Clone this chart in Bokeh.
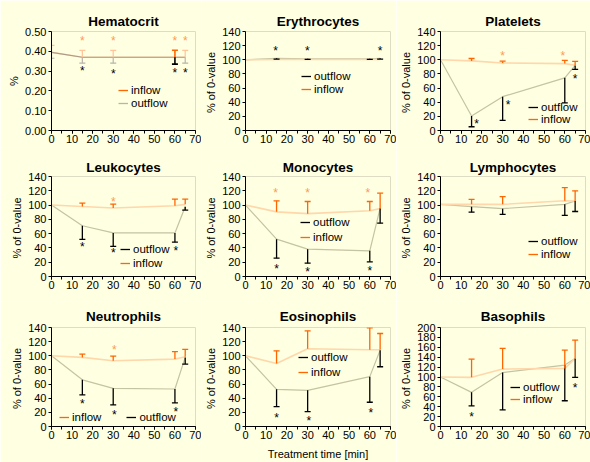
from bokeh.plotting import figure
from bokeh.layouts import gridplot
from bokeh.models import Range1d, FixedTicker, NumeralTickFormatter, Legend, LegendItem
from bokeh.core.properties import value
from bokeh.embed import file_html
from bokeh.resources import INLINE

# ---------------- data ----------------
T = [0, 15, 30, 60, 65]
TIME_TICKS = [0, 10, 20, 30, 40, 50, 60, 70]
TIME_MINOR = [0, 5, 10, 15, 20, 25, 30, 35, 40, 45, 50, 55, 60, 65, 70]
HCT_TICKS = [0.0, 0.1, 0.2, 0.3, 0.4, 0.5]
PCT_TICKS = [0, 20, 40, 60, 80, 100, 120, 140]
BASO_TICKS = [0, 20, 40, 60, 80, 100, 120, 140, 160, 180, 200]

hct_out = [0.395, 0.37, 0.37, 0.37, 0.37]
hct_out_low = [0.365, 0.34, 0.34, 0.335, 0.34]
hct_in = [0.395, 0.37, 0.37, 0.37, 0.37]
hct_in_high = [0.43, 0.405, 0.405, 0.405, 0.405]
hct_star_out_x = [15, 30, 60, 65]
hct_star_out_y = [0.314, 0.298, 0.305, 0.305]
hct_star_in_x = [15, 30, 60, 65]
hct_star_in_y = [0.468, 0.468, 0.468, 0.468]

ery_out = [100, 102, 101.5, 101.5, 102]
ery_out_low = [None, 101, 100.5, 100.5, 101]
ery_in = [100, 100.5, 100.5, 100.5, 100.5]
ery_in_high = [None, None, None, None, None]
ery_star_out_x = [14.5, 29.8, 65]
ery_star_out_y = [117, 117, 117]

plt_out = [100, 20.5, 47.8, 74.5, 92]
plt_out_low = [None, 5.3, 14.3, 39, 86.5]
plt_in = [100, 98.4, 95.5, 94.6, 92.2]
plt_in_high = [None, 101.8, 98, 99.2, 97.8]
plt_star_out_x = [17.4, 32.6, 65]
plt_star_out_y = [14, 41, 76.5]
plt_star_in_x = [30, 59]
plt_star_in_y = [110, 109]

leu_out = [100, 71, 61, 61, 97.7]
leu_out_low = [None, 52, 42.3, 48, 93]
leu_in = [100, 98, 96, 99, 101]
leu_in_high = [None, 102.8, 101.4, 108.4, 108.4]
leu_star_out_x = [15, 30, 60.5]
leu_star_out_y = [45.6, 37, 39.5]
leu_star_in_x = [30]
leu_star_in_y = [108]

mon_out = [100, 52.3, 38.3, 36, 95.7]
mon_out_low = [None, 25.7, 18.7, 20.5, 74.7]
mon_in = [100, 90.5, 88, 92, 95]
mon_in_high = [None, 106, 105, 105, 116.7]
mon_star_out_x = [15, 30, 60]
mon_star_out_y = [15, 10.3, 11.7]
mon_star_in_x = [14.5, 30, 59]
mon_star_in_y = [121, 121, 121]

lym_out = [101, 97.7, 95, 101, 105.7]
lym_out_low = [None, 90, 87, 85.5, 91]
lym_in = [101, 101, 101, 106, 105.7]
lym_in_high = [None, 108, 111.8, 124.5, 120]

neu_out = [100, 66, 54, 53, 97.7]
neu_out_low = [None, 44.6, 30.5, 33.3, 88.3]
neu_in = [100, 97.7, 93, 95.3, 98.6]
neu_in_high = [None, 102.4, 99.6, 106, 109]
neu_star_out_x = [15, 30.6, 60.5]
neu_star_out_y = [36.6, 20.2, 24.9]
neu_star_in_x = [30.6]
neu_star_in_y = [111.8]

eos_out = [100, 52.6, 51.2, 70.5, 108]
eos_out_low = [None, 28, 21, 34.3, 84.5]
eos_in = [100, 89, 110, 108.5, 108.5]
eos_in_high = [None, 107, 135.3, 139.5, 131.5]
eos_star_out_x = [15, 30.6, 60.5]
eos_star_out_y = [16.4, 11.7, 23.5]

bas_out = [100, 69, 109, 124, 137.6]
bas_out_low = [None, 41.6, 33.5, 52, 99.3]
bas_in = [100, 99.3, 116, 117.4, 137.6]
bas_in_high = [None, 136, 157.7, 154.4, 174.5]
bas_star_out_x = [15, 65]
bas_star_out_y = [25.5, 84]

# ---------------- styling ----------------
BG = "#FFFFE1"
FONT = "Liberation Sans"
OUT_LINE = "#C4C4A2"
IN_LINE = "#FFD7AA"
OUT_BAR = "#000000"
IN_BAR = "#FF6600"
OUT_BAR_LIGHT = "#B8B4AC"
IN_BAR_LIGHT = "#FFC49A"
OUT_STAR = "#000000"
IN_STAR = "#FF9955"

COL_FW = [144, 145, 145]
COL_L = [51, 44, 44]
COL_R = [6, 6, 5]
ROW_FH = [99, 100, 99]
ROW_T = [31, 29, 26]
ROW_B = [17, 25, 36]
ROW_TITLE_STANDOFF = [5, 4, 7]


def base_fig(col, row, title, ymax, yticks, ylabel, fmt=None, xlabel=None):
    p = figure(frame_width=COL_FW[col], frame_height=ROW_FH[row],
               x_range=Range1d(0, 70), y_range=Range1d(0, ymax),
               output_backend="svg", toolbar_location=None,
               min_border_left=COL_L[col], min_border_right=COL_R[col],
               min_border_top=ROW_T[row], min_border_bottom=ROW_B[row],
               background_fill_color=BG, border_fill_color=BG,
               outline_line_color="#DEDCC4", outline_line_width=1)
    p.title.text = title
    p.title.align = "center"
    p.title.text_font = FONT
    p.title.text_font_size = "13.5px"
    p.title.text_font_style = "bold"
    p.title.text_color = "#000000"
    p.title.standoff = ROW_TITLE_STANDOFF[row]
    p.grid.visible = False
    p.xaxis.ticker = FixedTicker(ticks=TIME_TICKS, minor_ticks=TIME_MINOR)
    p.yaxis.ticker = FixedTicker(ticks=yticks, minor_ticks=[])
    if fmt:
        p.yaxis.formatter = NumeralTickFormatter(format=fmt)
    for ax in (p.xaxis[0], p.yaxis[0]):
        ax.axis_line_color = "#000000"
        ax.major_tick_line_color = "#000000"
        ax.minor_tick_line_color = "#000000"
        ax.major_tick_out = 3
        ax.major_tick_in = 0
        ax.minor_tick_out = 3
        ax.minor_tick_in = 0
        ax.major_label_text_font = FONT
        ax.major_label_text_font_size = "11px"
        ax.major_label_text_color = "#000000"
        ax.axis_label_text_font = FONT
        ax.axis_label_text_font_size = "11px"
        ax.axis_label_text_font_style = "normal"
        ax.axis_label_text_color = "#000000"
    p.xaxis.major_label_standoff = 1
    p.yaxis.major_label_standoff = 2
    p.yaxis.axis_label = ylabel
    p.yaxis.axis_label_standoff = 2
    if xlabel:
        p.xaxis.axis_label = xlabel
        p.xaxis.axis_label_standoff = 6
    return p


def bars(p, means, ends, color, width=1.3):
    xs = [t for t, e in zip(T, ends) if e is not None]
    y0 = [m for m, e in zip(means, ends) if e is not None]
    y1 = [e for e in ends if e is not None]
    if xs:
        p.segment(x0=xs, y0=y0, x1=xs, y1=y1, line_color=color, line_width=width)
        p.scatter(xs, y1, marker="dash", size=6, line_color=color, line_width=width)


def proxy(p, ys, color):
    # hidden renderer that only supplies the legend swatch colour
    return p.line(T, ys, line_color=color, line_width=1.3, visible=False)


def stars(p, xs, ys, color):
    if xs:
        p.text(xs, ys, text=["*"] * len(xs), text_font=value(FONT),
               text_font_size="12px", text_align="center", text_baseline="middle",
               text_color=color, y_offset=3)


def add_legend(p, items, loc, spacing=1, orientation="vertical"):
    leg = Legend(items=[LegendItem(label=l, renderers=[r]) for l, r in items],
                 location=loc, orientation=orientation,
                 background_fill_alpha=0, border_line_alpha=0,
                 inactive_fill_alpha=0,
                 padding=0, margin=0, spacing=spacing,
                 glyph_width=10, glyph_height=12, label_height=12,
                 label_standoff=3, label_text_font=FONT,
                 label_text_font_size="11.5px", label_text_color="#000000")
    p.add_layout(leg)


def panel(col, row, title, ymax, yticks, out, out_low, inn, in_high,
          so_x, so_y, si_x, si_y, order, loc, spacing=1, orientation="vertical", xlabel=None):
    p = base_fig(col, row, title, ymax, yticks, "%  of 0-value", xlabel=xlabel)
    p.line(T, out, line_color=OUT_LINE, line_width=1.2)
    p.line(T, inn, line_color=IN_LINE, line_width=1.6)
    bars(p, out, out_low, OUT_BAR)
    bars(p, inn, in_high, IN_BAR)
    stars(p, so_x, so_y, OUT_STAR)
    stars(p, si_x, si_y, IN_STAR)
    rmap = {"outflow": proxy(p, out, OUT_BAR), "inflow": proxy(p, inn, IN_BAR)}
    add_legend(p, [(k, rmap[k]) for k in order], loc, spacing, orientation)
    return p


# Hematocrit (absolute values)
p1 = base_fig(0, 0, "Hematocrit", 0.5, HCT_TICKS, "%", fmt="0.00")
p1.line(T, hct_in, line_color=IN_LINE, line_width=1.6)
p1.line(T, hct_out, line_color="#A89C8A", line_width=1.2)
strong = [t == 60 for t in T]
bars(p1, hct_in, [e if not s else None for e, s in zip(hct_in_high, strong)], IN_BAR_LIGHT, 1.2)
bars(p1, hct_out, [e if not s else None for e, s in zip(hct_out_low, strong)], OUT_BAR_LIGHT, 1.2)
bars(p1, hct_in, [e if s else None for e, s in zip(hct_in_high, strong)], IN_BAR, 1.6)
bars(p1, hct_out, [e if s else None for e, s in zip(hct_out_low, strong)], OUT_BAR, 1.6)
stars(p1, hct_star_out_x, hct_star_out_y, OUT_STAR)
stars(p1, hct_star_in_x, hct_star_in_y, IN_STAR)
add_legend(p1, [("inflow", proxy(p1, hct_in, IN_BAR)),
                ("outflow", proxy(p1, hct_out, OUT_BAR_LIGHT))], (67, 21), 1)

p2 = panel(1, 0, "Erythrocytes", 140, PCT_TICKS, ery_out, ery_out_low, ery_in, ery_in_high,
           ery_star_out_x, ery_star_out_y, [], [],
           ["outflow", "inflow"], (56, 35), 1)
p3 = panel(2, 0, "Platelets", 140, PCT_TICKS, plt_out, plt_out_low, plt_in, plt_in_high,
           plt_star_out_x, plt_star_out_y, plt_star_in_x, plt_star_in_y,
           ["outflow", "inflow"], (88, 5), -1)
p4 = panel(0, 1, "Leukocytes", 140, PCT_TICKS, leu_out, leu_out_low, leu_in, leu_in_high,
           leu_star_out_x, leu_star_out_y, leu_star_in_x, leu_star_in_y,
           ["outflow", "inflow"], (69, 7), 2)
p5 = panel(1, 1, "Monocytes", 140, PCT_TICKS, mon_out, mon_out_low, mon_in, mon_in_high,
           mon_star_out_x, mon_star_out_y, mon_star_in_x, mon_star_in_y,
           ["outflow", "inflow"], (55, 33), 3)
p6 = panel(2, 1, "Lymphocytes", 140, PCT_TICKS, lym_out, lym_out_low, lym_in, lym_in_high,
           [], [], [], [], ["outflow", "inflow"], (88, 16), 1)
p7 = panel(0, 2, "Neutrophils", 140, PCT_TICKS, neu_out, neu_out_low, neu_in, neu_in_high,
           neu_star_out_x, neu_star_out_y, neu_star_in_x, neu_star_in_y,
           ["inflow", "outflow"], (8, 3), 25, "horizontal")
p8 = panel(1, 2, "Eosinophils", 140, PCT_TICKS, eos_out, eos_out_low, eos_in, eos_in_high,
           eos_star_out_x, eos_star_out_y, [], [], ["outflow", "inflow"], (53, 48), 3,
           xlabel="Treatment time [min]")
p9 = panel(2, 2, "Basophils", 200, BASO_TICKS, bas_out, bas_out_low, bas_in, bas_in_high,
           bas_star_out_x, bas_star_out_y, [], [], ["outflow", "inflow"], (70, 21), 0)

grid = gridplot([[p1, p2, p3], [p4, p5, p6], [p7, p8, p9]], toolbar_location=None)

open("out.html", "w").write(file_html(grid, INLINE))
